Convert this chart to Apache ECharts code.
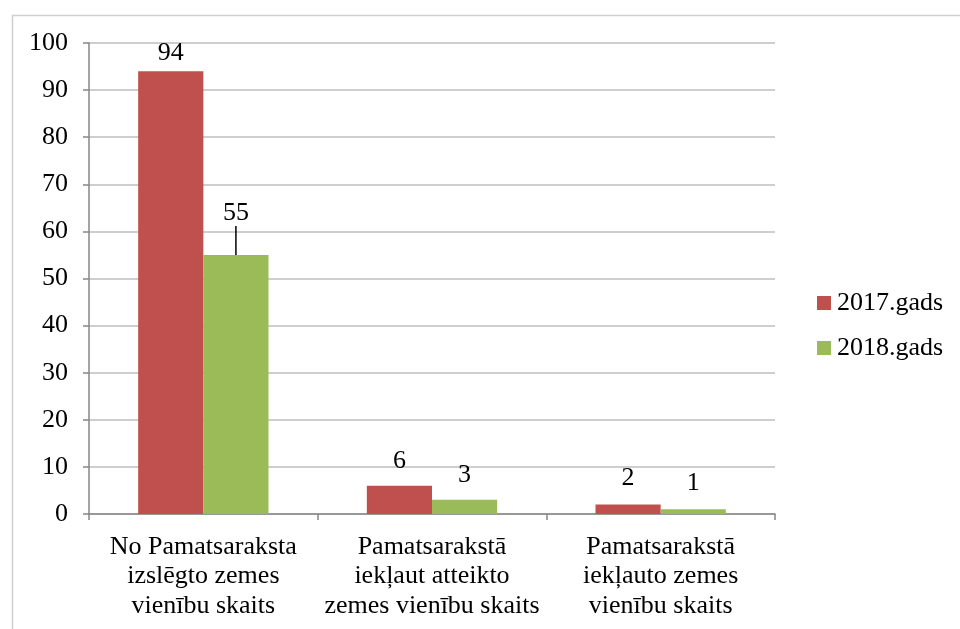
<!DOCTYPE html>
<html>
<head>
<meta charset="utf-8">
<style>html,body{margin:0;padding:0;background:#fff;}#c{width:960px;height:629px;}</style>
<script src="https://cdn.jsdelivr.net/npm/echarts@6/dist/echarts.min.js"></script>
</head>
<body>
<div id="c"></div>
<script>
var categories = ["No Pamatsaraksta\nizslēgto zemes\nvienību skaits", "Pamatsarakstā\niekļaut atteikto\nzemes vienību skaits", "Pamatsarakstā\niekļauto zemes\nvienību skaits"];
var seriesNames = ["2017.gads", "2018.gads"];
var values2017 = [94, 6, 2];
var values2018 = [55, 3, 1];
var yTicks = [0, 100, 10];

var font = "'Liberation Serif', 'Times New Roman', serif";
var chart = echarts.init(document.getElementById('c'));

var shift2017 = [0, -7, -8];
var shift2018 = [-24, -7, -8];

function makeData(vals, lineIdx) {
  return vals.map(function (v, i) {
    var d = { value: v };
    if (i === lineIdx) {
      d.labelLine = { show: true, lineStyle: { color: '#000', width: 1.5 } };
    }
    return d;
  });
}

chart.setOption({
  animation: false,
  textStyle: { fontFamily: font },
  graphic: [{
    type: 'rect', left: 10, top: 13,
    shape: { x: 0, y: 0, width: 1000, height: 700 },
    style: { fill: 'none', stroke: '#D0D0D0', lineWidth: 1.5 }
  }],
  grid: { left: 89, right: 185, top: 43, bottom: 115 },
  legend: {
    orient: 'vertical', left: 817, top: 290, itemGap: 19, padding: 0,
    itemWidth: 14, itemHeight: 14, icon: 'rect',
    textStyle: { fontFamily: font, fontSize: 26, lineHeight: 26, color: '#000', padding: [0, 0, 0, 1] },
    data: seriesNames
  },
  xAxis: {
    type: 'category', data: categories,
    axisLine: { lineStyle: { color: '#868686', width: 1.5 } },
    axisTick: { show: true, length: 6, alignWithLabel: false, lineStyle: { color: '#868686', width: 1.5 } },
    axisLabel: { fontFamily: font, fontSize: 26, color: '#000', lineHeight: 29.5, margin: 18, interval: 0 }
  },
  yAxis: {
    type: 'value', min: yTicks[0], max: yTicks[1], interval: yTicks[2],
    axisLine: { show: true, lineStyle: { color: '#868686', width: 1.5 } },
    axisTick: { show: true, length: 6, lineStyle: { color: '#868686', width: 1.5 } },
    splitLine: { lineStyle: { color: '#BEBEBE', width: 1.5 } },
    axisLabel: { fontFamily: font, fontSize: 26, color: '#000', margin: 21 }
  },
  series: [{
    name: seriesNames[0], type: 'bar', barWidth: '28.5%', barGap: '0%',
    itemStyle: { color: '#C0504D' },
    label: { show: true, position: 'top', distance: 5, fontFamily: font, fontSize: 26, color: '#000' },
    labelLayout: function (params) { return { dy: shift2017[params.dataIndex] }; },
    data: makeData(values2017, -1)
  }, {
    name: seriesNames[1], type: 'bar', barWidth: '28.5%', barGap: '0%',
    itemStyle: { color: '#9BBB59' },
    label: { show: true, position: 'top', distance: 5, fontFamily: font, fontSize: 26, color: '#000' },
    labelLayout: function (params) { return { dy: shift2018[params.dataIndex] }; },
    data: makeData(values2018, 0)
  }]
});
</script>
</body>
</html>
